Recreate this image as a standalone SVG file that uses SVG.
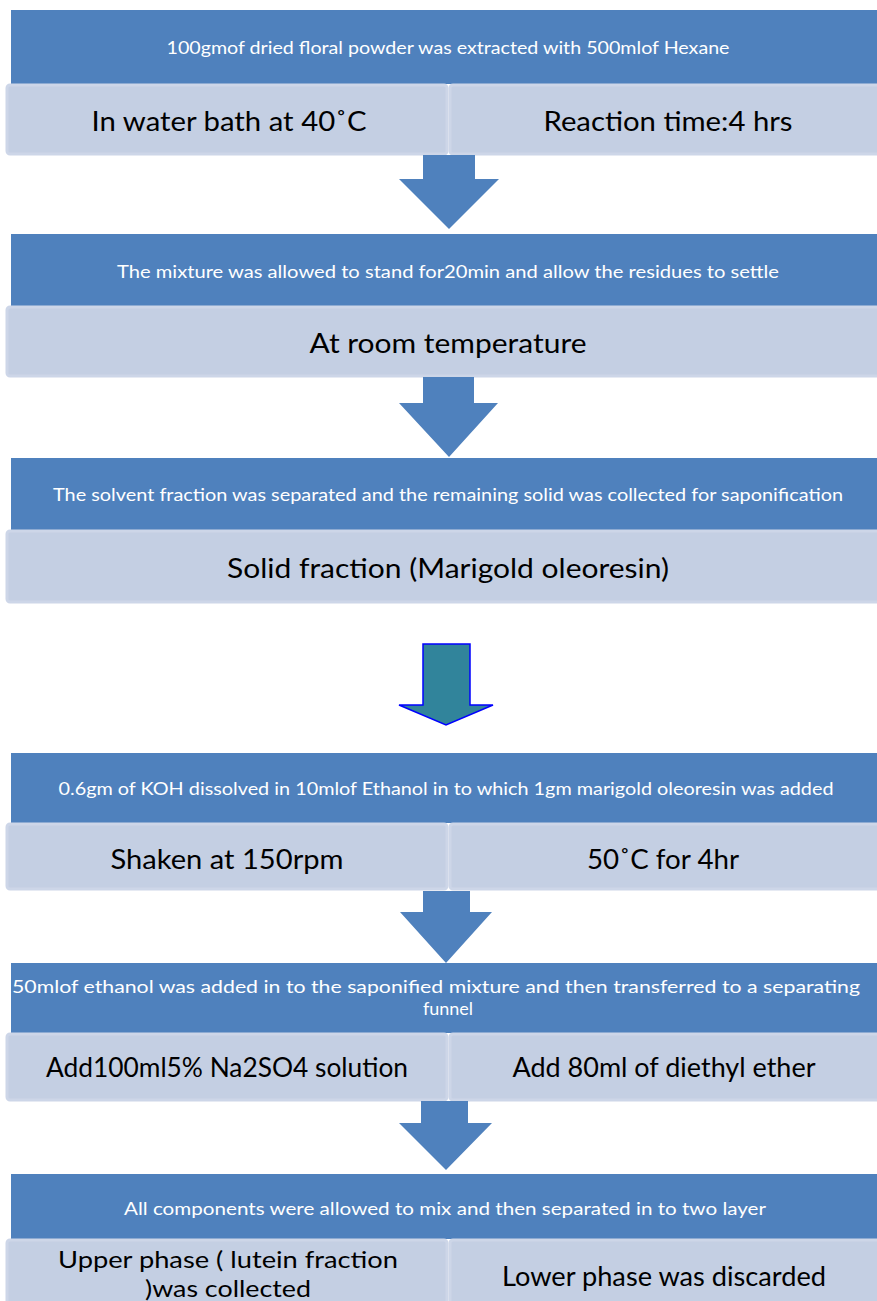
<svg xmlns="http://www.w3.org/2000/svg" width="877" height="1301" viewBox="0 0 877 1301">
<style>
.hdr{fill:#4F81BD}
.cell{fill:#C4CFE3;stroke:#CDD6E8;stroke-width:3}
.ht{font-family:Lato,"Liberation Sans",sans-serif;font-size:18px;fill:#FFFFFF;text-anchor:middle;dominant-baseline:central}
.ct{font-family:Lato,"Liberation Sans",sans-serif;font-size:27px;fill:#000000;text-anchor:middle;dominant-baseline:central}
.ct2{font-family:Lato,"Liberation Sans",sans-serif;font-size:24px;fill:#000000;text-anchor:middle;dominant-baseline:central}
.arr{fill:#4F81BD}
.arr2{fill:#31849B;stroke:#0000FF;stroke-width:1.5;stroke-linejoin:miter}
</style>
<rect width="877" height="1301" fill="#FFFFFF"/>
<g id="step1">
<rect class="hdr" x="11" y="10" width="874" height="74"/>
<text class="ht" x="448" y="47" textLength="563" lengthAdjust="spacingAndGlyphs">100gmof dried floral powder was extracted with 500mlof Hexane</text>
<rect class="cell" x="7" y="85" width="440" height="69" rx="3"/>
<rect class="cell" x="450" y="85" width="434" height="69" rx="3"/>
<text class="ct" x="229" y="120" textLength="275" lengthAdjust="spacingAndGlyphs">In water bath at 40˚C</text>
<text class="ct" x="668" y="120" textLength="249" lengthAdjust="spacingAndGlyphs">Reaction time:4 hrs</text>
</g>
<g id="step2">
<rect class="hdr" x="11" y="234" width="874" height="72"/>
<text class="ht" x="448" y="271" textLength="662" lengthAdjust="spacingAndGlyphs">The  mixture was allowed to stand for20min  and allow the residues to settle</text>
<rect class="cell" x="7" y="307" width="877" height="69" rx="3"/>
<text class="ct" x="448" y="342" textLength="277" lengthAdjust="spacingAndGlyphs">At room temperature</text>
</g>
<g id="step3">
<rect class="hdr" x="11" y="458" width="874" height="72"/>
<text class="ht" x="448" y="494" textLength="790" lengthAdjust="spacingAndGlyphs">The solvent fraction was separated and the remaining solid was collected for saponification</text>
<rect class="cell" x="7" y="531" width="877" height="71" rx="3"/>
<text class="ct" x="448" y="567" textLength="442" lengthAdjust="spacingAndGlyphs">Solid fraction (Marigold oleoresin)</text>
</g>
<g id="step4">
<rect class="hdr" x="11" y="753" width="874" height="70"/>
<text class="ht" x="446" y="788" textLength="775" lengthAdjust="spacingAndGlyphs">0.6gm of KOH dissolved in 10mlof Ethanol in to which  1gm marigold oleoresin was added</text>
<rect class="cell" x="7" y="824" width="440" height="65" rx="3"/>
<rect class="cell" x="450" y="824" width="434" height="65" rx="3"/>
<text class="ct" x="227" y="858" textLength="233" lengthAdjust="spacingAndGlyphs">Shaken at 150rpm</text>
<text class="ct" x="663" y="858" textLength="152" lengthAdjust="spacingAndGlyphs">50˚C for 4hr</text>
</g>
<g id="step5">
<rect class="hdr" x="11" y="963" width="874" height="70"/>
<text class="ht" x="436" y="986" textLength="848" lengthAdjust="spacingAndGlyphs">50mlof ethanol was added in to the saponified  mixture and  then transferred  to a  separating</text>
<text class="ht" x="448" y="1008">funnel</text>
<rect class="cell" x="7" y="1034" width="440" height="66" rx="3"/>
<rect class="cell" x="450" y="1034" width="434" height="66" rx="3"/>
<text class="ct" x="227" y="1066" textLength="362" lengthAdjust="spacingAndGlyphs">Add100ml5% Na2SO4 solution</text>
<text class="ct" x="664" y="1066" textLength="303" lengthAdjust="spacingAndGlyphs">Add 80ml of diethyl ether</text>
</g>
<g id="step6">
<rect class="hdr" x="11" y="1174" width="874" height="65"/>
<text class="ht" x="445" y="1208" textLength="642" lengthAdjust="spacingAndGlyphs">All  components  were  allowed  to mix and then separated  in to two layer</text>
<rect class="cell" x="7" y="1240" width="440" height="70" rx="3"/>
<rect class="cell" x="450" y="1240" width="434" height="70" rx="3"/>
<text class="ct2" x="228" y="1258" textLength="340" lengthAdjust="spacingAndGlyphs">Upper phase ( lutein fraction</text>
<text class="ct2" x="228" y="1287" textLength="166" lengthAdjust="spacingAndGlyphs">)was collected</text>
<text class="ct" x="664" y="1275" textLength="324" lengthAdjust="spacingAndGlyphs">Lower phase was discarded</text>
</g>
<g id="connectors">
<polygon class="arr" points="423,155 475,155 475,179 499,179 449,229 399,179 423,179"/>
<polygon class="arr" points="423,377 474,377 474,403 498,403 449,457 399,403 423,403"/>
<polygon class="arr2" points="423,644 470,644 470,705 493,705 446,725 399,705 423,705"/>
<polygon class="arr" points="423,891 470,891 470,912 492,912 446,963 400,912 423,912"/>
<polygon class="arr" points="421,1101 468,1101 468,1123 492,1123 446,1170 399,1123 421,1123"/>
</g>
</svg>
